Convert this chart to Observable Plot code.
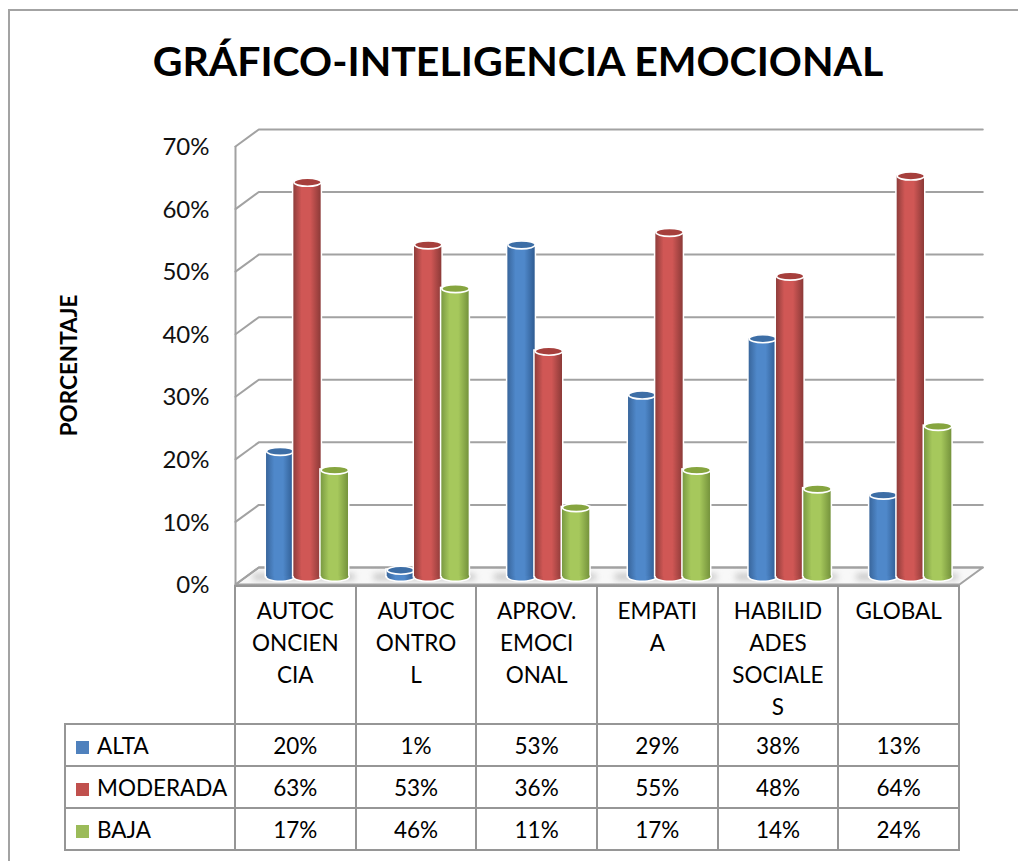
<!DOCTYPE html>
<html lang="es">
<head>
<meta charset="utf-8">
<script src="https://cdn.jsdelivr.net/npm/d3@7"></script>
<script src="https://cdn.jsdelivr.net/npm/@observablehq/plot@0.6"></script>
<style>
html,body{margin:0;padding:0;background:#fff;}
#root{position:relative;width:1018px;height:861px;overflow:hidden;font-family:Lato,sans-serif;color:#000;}
#frame{position:absolute;left:8px;top:9px;right:-4px;bottom:-4px;border-left:2px solid #a3a3a3;border-top:2px solid #a3a3a3;}
#title{position:relative;height:110px;line-height:122px;text-align:center;font-weight:700;font-size:41px;padding-left:18px;white-space:nowrap;}
svg{display:block;}
table{position:absolute;left:64px;top:585px;border-collapse:collapse;table-layout:fixed;width:894px;font-size:22.5px;}
td,th{border:2px solid #969696;text-align:center;font-weight:400;padding:0;}
tr.head th{height:137px;vertical-align:top;line-height:32px;padding-top:8px;box-sizing:border-box;}
tr.head th:first-child{border:none;border-right:2px solid #969696;border-bottom:2px solid #969696;}
tr.row td{height:40px;}
td.leg{text-align:left;white-space:nowrap;}
td.leg span{display:inline-block;width:13px;height:13px;margin:0 8px 0 10px;}
</style>
</head>
<body>
<div id="root">
<div id="frame"></div>
<div id="title"></div>
<div id="chart"></div>
<table id="tbl"></table>
</div>
<script>
const chartTitle = "GRÁFICO-INTELIGENCIA EMOCIONAL";
const yTitle = "PORCENTAJE";
const categories = ["AUTOCONCIENCIA","AUTOCONTROL","APROV. EMOCIONAL","EMPATIA","HABILIDADES SOCIALES","GLOBAL"];
const categoryLines = [["AUTOC","ONCIEN","CIA"],["AUTOC","ONTRO","L"],["APROV.","EMOCI","ONAL"],["EMPATI","A"],["HABILID","ADES","SOCIALE","S"],["GLOBAL"]];
const seriesNames = ["ALTA","MODERADA","BAJA"];
const alta = [20,1,53,29,38,13];
const moderada = [63,53,36,55,48,64];
const baja = [17,46,11,17,14,24];
const ticks = [0,10,20,30,40,50,60,70];
const palette = {
  ALTA:{swatch:"#4f81bd",edgeL:"#39669c",mid:"#4f88ca",edgeR:"#2f5c92",cap:"#3d6ea6"},
  MODERADA:{swatch:"#c0504d",edgeL:"#8f3d3b",mid:"#d05755",edgeR:"#8c3a38",cap:"#a63f3c"},
  BAJA:{swatch:"#9bbb59",edgeL:"#7a9a42",mid:"#a6c85c",edgeR:"#75933c",cap:"#86a53f"}
};
const values = {ALTA:alta,MODERADA:moderada,BAJA:baja};

document.getElementById("title").textContent = chartTitle;

// depth of the 3-D box, in data units
const depthX = 0.193, depthY = 2.72;
const barW = 0.2264, groupStart = 0.166;
const rows = seriesNames.flatMap((s,k)=>values[s].map((v,i)=>({s,k,i,v,x1:i+groupStart+k*barW,x2:i+groupStart+(k+1)*barW,xc:i+groupStart+(k+.5)*barW})));

function ellipseSymbol(rx,ry){
  const kx=rx*0.5523, ky=ry*0.5523;
  return {draw(c){
    c.moveTo(-rx,0);
    c.bezierCurveTo(-rx,-ky,-kx,-ry,0,-ry);
    c.bezierCurveTo(kx,-ry,rx,-ky,rx,0);
    c.bezierCurveTo(rx,ky,kx,ry,0,ry);
    c.bezierCurveTo(-kx,ry,-rx,ky,-rx,0);
    c.closePath();
  }};
}
const bodyEllipse = ellipseSymbol(13.7,4);
const defs = () => {
  const d = d3.create("svg:defs");
  for (const s of seriesNames){
    const p = palette[s];
    const g = d.append("linearGradient").attr("id","grad-"+s).attr("x1",0).attr("x2",1).attr("y1",0).attr("y2",0);
    [[0,p.edgeL],[.3,p.mid],[.62,p.mid],[1,p.edgeR]].forEach(([o,c])=>g.append("stop").attr("offset",o).attr("stop-color",c));
  }
  return d.node();
};
const font = {fontFamily:"Lato,sans-serif"};
const grid = ticks.flatMap(t=>[{t,x:0,y:t},{t,x:depthX,y:t+depthY},{t,x:6+depthX,y:t+depthY}]);
const floor = [{x:0,y:0},{x:depthX,y:depthY},{x:6+depthX,y:depthY},{x:6,y:0},{x:0,y:0}];
const off = {dx:11,dy:-8};

const barMarks = seriesNames.flatMap(s=>{
  const d = rows.filter(r=>r.s===s);
  const url = `url(#grad-${s})`;
  return [
    Plot.rect(d,{x1:"x1",x2:"x2",y1:()=>0,y2:"v",fill:"white",stroke:"white",strokeWidth:3,...off}),
    Plot.dot(d,{x:"xc",y:()=>0,symbol:bodyEllipse,r:1,fill:"white",stroke:"white",strokeWidth:3,...off}),
    Plot.dot(d,{x:"xc",y:()=>0,symbol:bodyEllipse,r:1,fill:url,stroke:"none",...off}),
    Plot.rect(d,{x1:"x1",x2:"x2",y1:()=>0,y2:"v",fill:url,...off}),
    Plot.dot(d,{x:"xc",y:"v",symbol:bodyEllipse,r:1,fill:palette[s].cap,stroke:"white",strokeWidth:1.6,...off})
  ];
});

const plot = Plot.plot({
  width:1018, height:494,
  marginLeft:235, marginRight:59, marginTop:36, marginBottom:20,
  x:{domain:[0,6],axis:null},
  y:{domain:[0,70],axis:null},
  style:{background:"transparent",...font},
  marks:[
    defs,
    Plot.line(floor,{x:"x",y:"y",fill:"#f8f8f8",stroke:"#a2a2a2",strokeWidth:2}),
    Plot.line(grid,{x:"x",y:"y",z:"t",stroke:"#a2a2a2",strokeWidth:2}),
    Plot.ruleX([0],{y1:0,y2:70,stroke:"#a2a2a2",strokeWidth:2}),
    Plot.rect(categories.map((c,i)=>({i})),{x1:d=>d.i+0.15,x2:d=>d.i+0.99,y1:()=>0.7,y2:()=>1.6,fill:"#a8a8a8",imageFilter:"blur(3px)",fillOpacity:.7}),
    ...barMarks,
    Plot.axisY(ticks,{anchor:"left",label:null,tickSize:0,tickPadding:26,tickFormat:d=>d+"%",fontSize:24,fill:"#111",dy:1}),
    Plot.text([yTitle],{y:()=>35,frameAnchor:"left",dx:-166,rotate:-90,textAnchor:"middle",fontSize:22.5,fontWeight:700,fill:"#000"})
  ]
});
document.getElementById("chart").appendChild(plot);

const tbl = d3.select("#tbl");
const cg = tbl.append("colgroup");
cg.append("col").style("width","170px");
categories.forEach(()=>cg.append("col").style("width","120.67px"));
const head = tbl.append("tr").attr("class","head");
head.append("th");
categoryLines.forEach(ls=>head.append("th").html(ls.join("<br>")));
seriesNames.forEach(s=>{
  const tr = tbl.append("tr").attr("class","row");
  const l = tr.append("td").attr("class","leg");
  l.append("span").style("background",palette[s].swatch);
  l.append("span").attr("class","t").style("width","auto").style("height","auto").style("margin","0").text(s);
  values[s].forEach(v=>tr.append("td").text(v+"%"));
});
</script>
</body>
</html>
